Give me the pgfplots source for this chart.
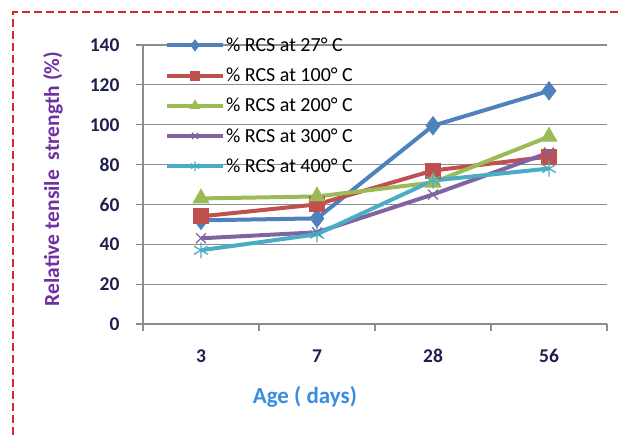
\documentclass[border=0pt]{standalone}
\usepackage{pgfplots}
\pgfplotsset{compat=1.18}
\usepackage{fontspec}
\setmainfont{Carlito}
\definecolor{cblue}{HTML}{4F81BD}
\definecolor{cred}{HTML}{C0504D}
\definecolor{cgreen}{HTML}{9BBB59}
\definecolor{cpurple}{HTML}{8064A2}
\definecolor{ccyan}{HTML}{4BACC6}
\definecolor{tickcol}{HTML}{1F1F4F}
\definecolor{ylab}{HTML}{7030A0}
\definecolor{xlab}{HTML}{3A8DDE}
\definecolor{gridc}{HTML}{8C8C8C}
\definecolor{dashred}{HTML}{D42A2A}
\begin{document}
\begin{tikzpicture}
\path[use as bounding box] (0pt,0pt) rectangle (622pt,435pt);
\draw[dashred,line width=2pt,dash pattern=on 8pt off 4pt] (13pt,0pt) -- (13pt,423pt) -- (622pt,423pt);
\begin{axis}[
  at={(143pt,111pt)}, anchor=south west,
  scale only axis, width=464pt, height=279pt,
  xmin=-0.5, xmax=3.5, ymin=0, ymax=140,
  axis lines=left, axis line style={gridc,line width=1.2pt,-},
  xtick={0,1,2,3}, xticklabels={3,7,28,56},
  minor xtick={-0.5,0.5,1.5,2.5,3.5},
  ytick={0,20,...,140},
  major x tick style={draw=none},
  minor tick length=7pt, major tick length=7pt,
  tick align=outside,
  tick style={gridc,line width=1.2pt},
  ymajorgrids, grid style={gridc,line width=1.2pt},
  tick label style={font=\fontsize{19.5}{22}\selectfont\bfseries, text=tickcol},
  xticklabel style={yshift=-15pt},
  yticklabel style={xshift=-13pt},
  /pgf/number format/assume math mode=true,
  xlabel={Age ( days)},
  ylabel={Relative tensile\ \ strength (\%)},
  every axis x label/.style={at={(rel axis cs:0.349,0)}, anchor=center, yshift=-73pt,
    font=\fontsize{23}{26}\selectfont\bfseries, text=xlab},
  every axis y label/.style={at={(rel axis cs:-0.194,0.52)}, anchor=center, rotate=90,
    font=\fontsize{21.5}{24}\selectfont\bfseries, text=ylab},
  legend style={at={(rel axis cs:0.047,1.03)}, anchor=north west, draw=none, fill=none,
    font=\fontsize{20}{24}\selectfont, row sep=13pt, inner sep=0pt,
    nodes={inner sep=1pt}},
  legend cell align=left,
  legend image code/.code={\draw[mark repeat=2,mark phase=2,/tikz/every mark/.append style={scale=0.6}] plot coordinates {(0pt,0pt)(28pt,0pt)(56pt,0pt)};},
  every axis plot/.append style={line width=4pt},
  clip=false,
]
\addplot[cblue, mark=diamond*, mark size=9pt, mark options={line width=1pt}] coordinates {(0,52) (1,53) (2,99.5) (3,117)};
\addlegendentry{\% RCS at 27° C}
\addplot[cred, mark=square*, mark size=7.5pt, mark options={line width=1pt}] coordinates {(0,54) (1,60) (2,77) (3,84)};
\addlegendentry{\% RCS at 100° C}
\addplot[cgreen, mark=triangle*, mark size=9pt, mark options={line width=1pt}] coordinates {(0,63) (1,64) (2,71) (3,94)};
\addlegendentry{\% RCS at 200° C}
\addplot[cpurple, mark=x, mark size=7pt, mark options={line width=1.3pt}] coordinates {(0,43) (1,46) (2,65) (3,86)};
\addlegendentry{\% RCS at 300° C}
\addplot[ccyan, mark=asterisk, mark size=8pt, mark options={line width=1.3pt}] coordinates {(0,37) (1,45) (2,72) (3,78)};
\addlegendentry{\% RCS at 400° C}
\end{axis}
\end{tikzpicture}
\end{document}
